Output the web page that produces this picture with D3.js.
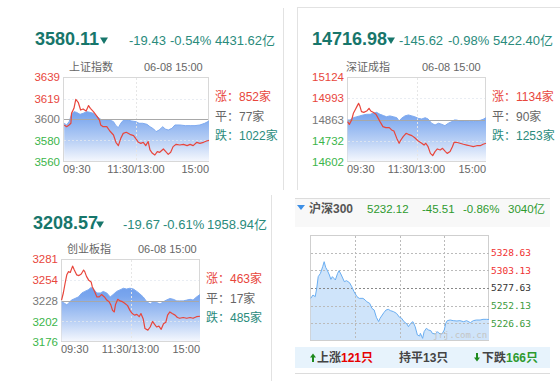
<!DOCTYPE html>
<html>
<head>
<meta charset="utf-8">
<script src="https://cdnjs.cloudflare.com/ajax/libs/d3/7.8.5/d3.min.js"></script>
<style>
	html, body { margin: 0; padding: 0; background: #fff; }
	svg { display: block; font-family: "Liberation Sans", "Noto Sans CJK SC", sans-serif; }
</style>
</head>
<body>
<svg id="chart" width="560" height="381"></svg>
<script>
// Time axis labels (trading minutes 0..240)
const timeLabels = ['09:30', '11:30/13:00', '15:00'];

// 上证指数
const shTicks = [3560, 3580, 3600, 3619, 3639];
const shPriceT = [2, 6, 10, 13, 14, 18, 21, 25, 29, 33, 38, 42, 45, 50, 55, 60, 62, 66, 72, 77, 83, 87, 91, 95, 99, 104, 110, 116, 120, 124, 128, 132, 136, 140, 143, 147, 151, 155, 159, 165, 169, 173, 177, 181, 186, 192, 198, 204, 209, 214, 220, 225, 231, 236, 240];
const shPrice = [3594.4, 3592.8, 3594.4, 3596, 3605.2, 3609.9, 3618.2, 3615.5, 3608.3, 3609.3, 3607.4, 3612.4, 3609.9, 3606.8, 3603.1, 3599, 3594.4, 3592.8, 3592.8, 3588.8, 3585.1, 3578.3, 3575.2, 3582, 3586.6, 3587.6, 3585.7, 3584.5, 3581.4, 3578.3, 3577.3, 3578.3, 3575.2, 3579, 3571.2, 3568.1, 3566.5, 3569.6, 3569, 3572.1, 3569.6, 3567.1, 3569, 3574.3, 3576.4, 3575.8, 3576.4, 3575.2, 3576.4, 3575.2, 3578.3, 3577.3, 3578.3, 3579.5, 3580.1];
const shAvgT = [2, 6, 10, 14, 18, 22, 28, 33, 39, 44, 50, 55, 61, 66, 72, 77, 83, 87, 91, 95, 99, 106, 113, 120, 125, 131, 138, 143, 149, 153, 158, 164, 168, 173, 179, 184, 192, 201, 209, 217, 225, 233, 240];
const shAvg = [3596, 3594.4, 3597.5, 3604.3, 3606.8, 3606.2, 3604.3, 3605.2, 3606.8, 3606.2, 3605.2, 3603.1, 3600, 3598.7, 3599, 3599, 3597.5, 3593.8, 3591.9, 3596, 3598.7, 3599, 3598.1, 3597.5, 3596, 3596, 3595, 3592.8, 3590.7, 3588.2, 3589.7, 3592.8, 3590.7, 3589.7, 3591.3, 3594.4, 3594.4, 3593.8, 3593.8, 3593.8, 3594.4, 3596, 3598.1];

// 深证成指
const szTicks = [14602, 14732, 14863, 14993, 15124];
const szPriceT = [1, 4, 8, 11, 14, 17, 20, 22, 25, 29, 34, 38, 41, 45, 50, 54, 57, 62, 67, 73, 77, 81, 86, 90, 93, 97, 102, 106, 112, 117, 123, 129, 133, 136, 140, 144, 148, 152, 156, 161, 165, 170, 173, 178, 182, 185, 189, 195, 201, 207, 212, 218, 224, 230, 235, 240];
const szPrice = [14850, 14833, 14860, 14901, 14921, 14942, 14962, 14948, 14911, 14907, 14915, 14932, 14915, 14907, 14895, 14870, 14850, 14819, 14813, 14813, 14799, 14792, 14747, 14717, 14737, 14758, 14778, 14772, 14764, 14751, 14731, 14717, 14706, 14717, 14696, 14655, 14641, 14666, 14682, 14676, 14686, 14666, 14655, 14666, 14696, 14723, 14723, 14717, 14711, 14706, 14702, 14696, 14702, 14702, 14711, 14717];
const szAvgT = [1, 5, 11, 17, 22, 28, 34, 40, 45, 51, 57, 63, 68, 74, 80, 86, 90, 94, 100, 106, 112, 117, 123, 129, 135, 140, 146, 152, 158, 164, 169, 175, 181, 185, 189, 195, 201, 207, 212, 218, 224, 230, 235, 240];
const szAvg = [14860, 14860, 14874, 14880, 14885, 14891, 14895, 14895, 14901, 14907, 14895, 14887, 14880, 14885, 14880, 14874, 14854, 14870, 14885, 14891, 14885, 14880, 14870, 14866, 14874, 14866, 14840, 14829, 14840, 14833, 14825, 14840, 14850, 14860, 14860, 14854, 14854, 14850, 14850, 14850, 14854, 14858, 14864, 14874];

// 创业板指
const cyTicks = [3176, 3202, 3228, 3254, 3281];
const cyPriceT = [1, 4, 7, 10, 13, 16, 20, 23, 27, 31, 35, 39, 41, 44, 48, 52, 54, 58, 62, 66, 70, 75, 79, 83, 86, 89, 92, 94, 98, 102, 106, 110, 115, 119, 123, 127, 131, 135, 138, 142, 145, 150, 154, 158, 161, 165, 169, 173, 177, 181, 184, 188, 192, 197, 201, 205, 211, 217, 223, 228, 234, 240];
const cyPrice = [3229, 3238, 3250, 3261, 3265, 3264, 3272, 3267, 3261, 3260, 3262, 3267, 3265, 3259, 3254, 3252, 3246, 3240, 3233, 3233, 3236, 3233, 3229, 3227, 3223, 3216, 3214, 3223, 3230, 3228, 3227, 3225, 3222, 3216, 3212, 3210, 3211, 3208, 3212, 3205, 3193, 3191, 3195, 3202, 3199, 3195, 3196, 3192, 3199, 3201, 3210, 3214, 3212, 3210, 3207, 3206, 3207, 3206, 3207, 3206, 3208, 3208.6];
const cyAvgT = [1, 6, 10, 13, 18, 24, 30, 36, 41, 47, 52, 56, 62, 68, 73, 79, 85, 90, 96, 102, 108, 113, 119, 125, 131, 136, 142, 148, 154, 159, 165, 171, 177, 182, 188, 194, 200, 205, 211, 217, 223, 228, 234, 240];
const cyAvg = [3227, 3225, 3223, 3225, 3229, 3231, 3233, 3238, 3240, 3242, 3245, 3243, 3238, 3238, 3240, 3238, 3233, 3236, 3240, 3242, 3244, 3243, 3244, 3243, 3240, 3237, 3233, 3227, 3224, 3227, 3226, 3224, 3227, 3229, 3231, 3230, 3228, 3228, 3228, 3229, 3230, 3229, 3233, 3236];

// 沪深300
const hsTicks = [5226.63, 5252.13, 5277.63, 5303.13, 5328.63];
const hsT = [1, 4, 7, 9, 11, 14, 17, 19, 21, 23, 26, 28, 30, 34, 37, 39, 42, 46, 49, 53, 56, 59, 63, 66, 71, 74, 76, 80, 83, 86, 89, 92, 94, 96, 99, 102, 105, 108, 112, 116, 120, 123, 126, 130, 132, 135, 138, 141, 144, 147, 148, 151, 153, 156, 159, 162, 164, 168, 171, 173, 177, 180, 182, 184, 188, 192, 197, 201, 206, 210, 215, 219, 223, 228, 232, 237, 240];
const hsPrice = [5262.7, 5267.5, 5265.1, 5277.1, 5294, 5298.8, 5308.4, 5315.6, 5307.5, 5303.6, 5296.4, 5290.1, 5294, 5289.2, 5298.8, 5302.6, 5296.4, 5286.8, 5288.2, 5285.3, 5279.5, 5272.3, 5265.1, 5262.7, 5262.7, 5260.3, 5257.9, 5255.5, 5248.3, 5245.9, 5235.3, 5229.2, 5234, 5237.2, 5242, 5245.9, 5246.8, 5244.9, 5243.5, 5241, 5235.3, 5233.8, 5229, 5225.7, 5221.8, 5226.6, 5229, 5221.8, 5209.8, 5208.3, 5212.2, 5205, 5214.6, 5219.4, 5217, 5216, 5212.2, 5211.2, 5214.6, 5212.2, 5211.2, 5217, 5226.6, 5230.5, 5231.4, 5230.5, 5230, 5230.5, 5229, 5230.5, 5227.6, 5230.5, 5231.4, 5231.4, 5232.4, 5232.4, 5232.1];

const svg = d3.select('#chart');
const defs = svg.append('defs');

// Panel frames / dividers
const frame = svg.append('g').attr('stroke', '#e2e2e2').attr('fill', 'none');
frame.append('line').attr('x1', 283.5).attr('x2', 283.5).attr('y1', 8).attr('y2', 190);
frame.append('line').attr('x1', 297.5).attr('x2', 297.5).attr('y1', 7).attr('y2', 190);
frame.append('line').attr('x1', 297).attr('x2', 560).attr('y1', 7.5).attr('y2', 7.5);
frame.append('line').attr('x1', 271.5).attr('x2', 271.5).attr('y1', 195).attr('y2', 381);

const TEAL = '#17766b';
const TEAL2 = '#2a8b7c';
const RED = '#e8463c';
const GREEN = '#3bb54a';
const GREY = '#666';

function drawIndexPanel(p) {
	const g = svg.append('g');
	const x = d3.scaleLinear().domain([0, 240]).range([p.left, p.right]);
	const y = d3.scaleLinear().domain([p.ticks[0], p.ticks[p.ticks.length - 1]]).range([p.bottom, p.top]);

	// Header
	g.append('text')
		.attr('x', p.hx).attr('y', p.hy)
		.attr('font-size', 18).attr('font-weight', 'bold').attr('fill', TEAL)
		.text(p.last);
	g.append('path')
		.attr('d', `M${p.tx},${p.hy - 7.5}L${p.tx + 8},${p.hy - 7.5}L${p.tx + 4},${p.hy - 1}Z`)
		.attr('fill', TEAL);
	g.selectAll('text.chg')
		.data(p.changes)
	.join('text')
		.attr('class', 'chg')
		.attr('x', (d, i) => p.cx[i]).attr('y', p.hy)
		.attr('font-size', 13).attr('fill', TEAL2)
		.text(d => d);

	// Title row
	g.append('text').attr('x', p.nx).attr('y', p.top - 6)
		.attr('font-size', 11).attr('fill', GREY).text(p.name);
	g.append('text').attr('x', p.dx).attr('y', p.top - 6)
		.attr('font-size', 11).attr('fill', GREY).text('06-08 15:00');

	// Plot box + grid
	g.append('rect')
		.attr('x', p.left + 0.5).attr('y', p.top + 0.5)
		.attr('width', p.right - p.left - 1).attr('height', p.bottom - p.top - 1)
		.attr('fill', '#fff').attr('stroke', '#d8d8d8');

	// Gradient area
	const gid = 'grad-' + p.id;
	const grad = defs.append('linearGradient').attr('id', gid)
		.attr('gradientUnits', 'userSpaceOnUse')
		.attr('x1', 0).attr('x2', 0).attr('y1', p.top).attr('y2', p.bottom);
	grad.append('stop').attr('offset', '0%').attr('stop-color', '#5489e4');
	grad.append('stop').attr('offset', '45%').attr('stop-color', '#7aa6ee');
	grad.append('stop').attr('offset', '75%').attr('stop-color', '#b9d0f5');
	grad.append('stop').attr('offset', '100%').attr('stop-color', '#f7f9fe');

	const avg = p.avgT.map((t, i) => [t, p.avg[i]]);
	const price = p.priceT.map((t, i) => [t, p.price[i]]);

	g.append('path')
		.datum(avg)
		.attr('fill', `url(#${gid})`)
		.attr('d', d3.area().x(d => x(d[0])).y0(p.bottom - 1).y1(d => y(d[1])));

	// grid lines
	g.selectAll('line.hgrid')
		.data(p.ticks.slice(1, -1).filter((d, i) => i !== 1))
	.join('line')
		.attr('class', 'hgrid')
		.attr('x1', p.left + 1).attr('x2', p.right - 1)
		.attr('y1', d => Math.round(y(d)) + 0.5).attr('y2', d => Math.round(y(d)) + 0.5)
		.attr('stroke', '#e4e8f0').attr('stroke-dasharray', '2,2').attr('stroke-opacity', 0.8);
	g.append('line')
		.attr('x1', Math.round(x(120)) + 0.5).attr('x2', Math.round(x(120)) + 0.5)
		.attr('y1', p.top + 1).attr('y2', p.bottom - 1)
		.attr('stroke', '#e6e6e6').attr('stroke-dasharray', '2,2');

	g.append('path')
		.datum(avg)
		.attr('fill', 'none').attr('stroke', '#7eaaf0').attr('stroke-width', 1)
		.attr('d', d3.line().x(d => x(d[0])).y(d => y(d[1])));

	// previous close line
	const yc = Math.round(y(p.prevClose)) + 0.5;
	g.append('line')
		.attr('x1', p.left + 1).attr('x2', p.right - 1).attr('y1', yc).attr('y2', yc)
		.attr('stroke', '#a8a8a8').attr('stroke-width', 1);

	g.append('path')
		.datum(price)
		.attr('fill', 'none').attr('stroke', RED).attr('stroke-width', 1.2)
		.attr('stroke-linejoin', 'round')
		.attr('d', d3.line().x(d => x(d[0])).y(d => y(d[1])));

	// Y tick labels
	g.selectAll('text.ytick')
		.data(p.ticks)
	.join('text')
		.attr('class', 'ytick')
		.attr('x', p.left - 3).attr('y', d => y(d)).attr('dy', '0.36em')
		.attr('text-anchor', 'end').attr('font-size', 11.5)
		.attr('fill', (d, i) => i > 2 ? RED : (i === 2 ? '#777' : GREEN))
		.text(d => d);

	// X labels
	g.selectAll('text.xtick')
		.data(timeLabels)
	.join('text')
		.attr('class', 'xtick')
		.attr('x', (d, i) => x(i * 120)).attr('y', p.bottom + 11)
		.attr('text-anchor', (d, i) => ['start', 'middle', 'end'][i])
		.attr('font-size', 11).attr('fill', GREY)
		.text(d => d);

	// Advance / decline counts
	const counts = [['涨：' + p.up + '家', RED], ['平：' + p.flat + '家', GREY], ['跌：' + p.down + '家', TEAL2]];
	g.selectAll('text.cnt')
		.data(counts)
	.join('text')
		.attr('class', 'cnt')
		.attr('x', p.right + 6).attr('y', (d, i) => p.top + 24 + i * 19.5)
		.attr('font-size', 12).attr('fill', d => d[1])
		.text(d => d[0]);
}

drawIndexPanel({
	id: 'sh', name: '上证指数', last: '3580.11', changes: ['-19.43', '-0.54%', '4431.62亿'],
	hx: 35, hy: 45, tx: 100, cx: [129, 170, 215], nx: 69, dx: 144,
	left: 63, right: 209, top: 77, bottom: 162,
	ticks: shTicks, prevClose: 3599.54,
	priceT: shPriceT, price: shPrice, avgT: shAvgT, avg: shAvg,
	up: 852, flat: 77, down: 1022
});

drawIndexPanel({
	id: 'sz', name: '深证成指', last: '14716.98', changes: ['-145.62', '-0.98%', '5422.40亿'],
	hx: 312, hy: 45, tx: 387, cx: [399, 448, 493], nx: 346, dx: 422,
	left: 347, right: 486, top: 77, bottom: 162,
	ticks: szTicks, prevClose: 14862.6,
	priceT: szPriceT, price: szPrice, avgT: szAvgT, avg: szAvg,
	up: 1134, flat: 90, down: 1253
});

drawIndexPanel({
	id: 'cy', name: '创业板指', last: '3208.57', changes: ['-19.67', '-0.61%', '1958.94亿'],
	hx: 33, hy: 229, tx: 96, cx: [123, 163, 207], nx: 67, dx: 138,
	left: 61, right: 200, top: 259, bottom: 342,
	ticks: cyTicks, prevClose: 3228.24,
	priceT: cyPriceT, price: cyPrice, avgT: cyAvgT, avg: cyAvg,
	up: 463, flat: 17, down: 485
});

// 沪深300 panel
(function() {
	const g = svg.append('g');
	const HS_GREEN = '#2e9a2e';
	const left = 310, right = 489, top = 235, bottom = 341;
	const step = hsTicks[1] - hsTicks[0];
	const x = d3.scaleLinear().domain([0, 240]).range([left, right]);
	const y = d3.scaleLinear().domain([hsTicks[0] - step, hsTicks[hsTicks.length - 1] + step]).range([bottom, top]);

	g.append('line').attr('x1', 295).attr('x2', 550).attr('y1', 198.5).attr('y2', 198.5).attr('stroke', '#dcdcdc');
	g.append('rect').attr('x', 295).attr('y', 199).attr('width', 255).attr('height', 28).attr('fill', '#f8f8f8');
	g.append('path').attr('d', 'M297,205L305,205L301,210Z').attr('fill', '#3d8fe6');
	g.append('text').attr('x', 309).attr('y', 213).attr('font-size', 12).attr('font-weight', 'bold').attr('fill', '#555').text('沪深300');
	g.selectAll('text.hsh')
		.data(['5232.12', '-45.51', '-0.86%', '3040亿'])
	.join('text')
		.attr('class', 'hsh')
		.attr('x', (d, i) => [367, 422, 463, 508][i]).attr('y', 213)
		.attr('font-size', 11.5).attr('fill', HS_GREEN)
		.text(d => d);

	g.append('rect')
		.attr('x', left + 0.5).attr('y', top + 0.5).attr('width', right - left - 1).attr('height', bottom - top - 1)
		.attr('fill', '#fff').attr('stroke', '#cfcfcf');

	const series = hsT.map((t, i) => [t, hsPrice[i]]);
	g.append('path')
		.datum(series)
		.attr('fill', '#cfe4fa')
		.attr('d', d3.area().x(d => x(d[0])).y0(bottom - 1).y1(d => y(d[1])));

	g.selectAll('line.hg')
		.data(hsTicks)
	.join('line')
		.attr('class', 'hg')
		.attr('x1', left + 1).attr('x2', right)
		.attr('y1', d => Math.round(y(d)) + 0.5).attr('y2', d => Math.round(y(d)) + 0.5)
		.attr('stroke', (d, i) => i === 2 ? '#888' : '#bbb').attr('stroke-dasharray', '2,2');
	g.selectAll('line.vg')
		.data([60, 120, 180])
	.join('line')
		.attr('class', 'vg')
		.attr('x1', d => Math.round(x(d)) + 0.5).attr('x2', d => Math.round(x(d)) + 0.5)
		.attr('y1', top + 1).attr('y2', bottom - 1)
		.attr('stroke', '#bbb').attr('stroke-dasharray', '2,2');

	g.append('path')
		.datum(series)
		.attr('fill', 'none').attr('stroke', '#6aaef2').attr('stroke-width', 1)
		.attr('d', d3.line().x(d => x(d[0])).y(d => y(d[1])));

	g.append('text').attr('x', 433).attr('y', 338)
		.attr('font-family', '"DejaVu Sans Mono", monospace').attr('font-size', 9)
		.attr('fill', '#c4c4c4').text('jrj.com.cn');

	g.selectAll('text.hy')
		.data(hsTicks)
	.join('text')
		.attr('class', 'hy')
		.attr('x', right + 2).attr('y', d => y(d)).attr('dy', '0.36em')
		.attr('font-family', '"DejaVu Sans Mono", monospace').attr('font-size', 9.5)
		.attr('fill', (d, i) => i > 2 ? '#f03030' : (i === 2 ? '#333' : '#3a9a3a'))
		.text(d => d.toFixed(2));

	// Stats bar
	g.append('rect').attr('x', 295).attr('y', 347).attr('width', 255).attr('height', 21).attr('fill', '#e7f3fc');
	g.append('line').attr('x1', 295).attr('x2', 550).attr('y1', 373.5).attr('y2', 373.5).attr('stroke', '#dcdcdc');
	g.append('path').attr('d', 'M310,357.5L313,353.5L316,357.5L314,357.5L314,362L312,362L312,357.5Z').attr('fill', '#1e8a1e');
	g.append('path').attr('d', 'M474,357.5L477,361.5L480,357.5L478,357.5L478,353L476,353L476,357.5Z').attr('fill', '#1e8a1e');

	const stats = g.append('g').attr('font-size', 12).attr('font-weight', 'bold');
	const s1 = stats.append('text').attr('x', 317).attr('y', 362);
	s1.append('tspan').attr('fill', '#444').text('上涨');
	s1.append('tspan').attr('fill', '#e60000').text('121只');
	stats.append('text').attr('x', 399).attr('y', 362).attr('fill', '#444').text('持平13只');
	const s3 = stats.append('text').attr('x', 482).attr('y', 362);
	s3.append('tspan').attr('fill', '#444').text('下跌');
	s3.append('tspan').attr('fill', HS_GREEN).text('166只');
})();
</script>
</body>
</html>
